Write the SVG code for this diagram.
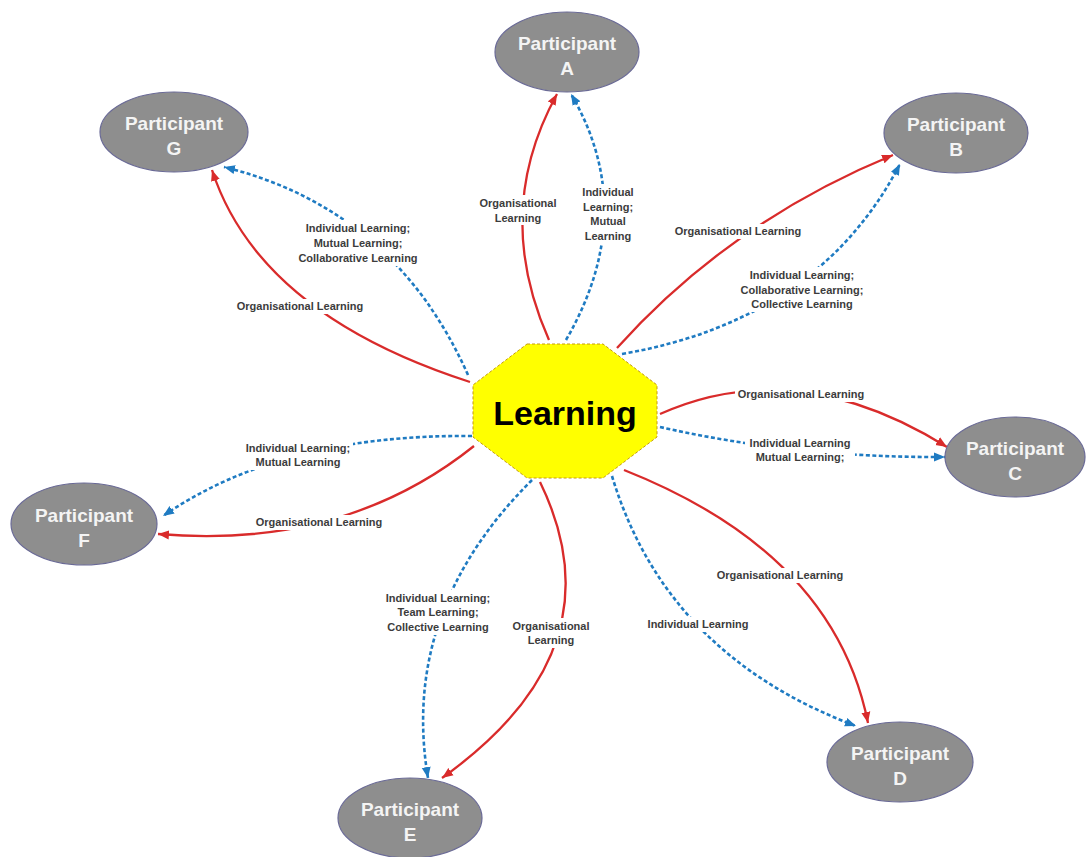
<svg xmlns="http://www.w3.org/2000/svg" width="1086" height="857" viewBox="0 0 1086 857">
<style>
.node ellipse{fill:#8e8e8e;stroke:#6a6a96;stroke-width:1.2}
.node text{font-family:"Liberation Sans",Arial,sans-serif;font-weight:bold;font-size:19px;fill:#f4f4f4;text-anchor:middle}
.red{fill:none;stroke:#d92b2b;stroke-width:2.3;marker-end:url(#ar)}
.blue{fill:none;stroke:#1f7bc2;stroke-width:2.6;stroke-dasharray:4 2.5;marker-end:url(#ab)}
.lbl text{font-family:"Liberation Sans",Arial,sans-serif;font-weight:bold;font-size:11px;fill:#3c3c3c;text-anchor:middle}
.lbl rect{fill:#ffffff}
</style>
<defs>
<marker id="ar" markerUnits="userSpaceOnUse" markerWidth="12" markerHeight="10" refX="11" refY="5" orient="auto"><path d="M0,0.5 L11,5 L0,9.5 Z" fill="#d92b2b"/></marker>
<marker id="ab" markerUnits="userSpaceOnUse" markerWidth="12" markerHeight="10" refX="11" refY="5" orient="auto"><path d="M0,0.5 L11,5 L0,9.5 Z" fill="#1f7bc2"/></marker>
</defs>
<rect width="1086" height="857" fill="#ffffff"/>
<g id="connectors">
<path class="red" d="M549,340 Q492,212 557,94"/>
<path class="blue" d="M566,340 Q640,212 571,94"/>
<path class="red" d="M617,348 Q730,222 893,155"/>
<path class="blue" d="M622,354 Q819,320 900,164"/>
<path class="red" d="M660,414 Q796,353 947,447"/>
<path class="blue" d="M660,427 Q797,458 945,457"/>
<path class="red" d="M624,470 Q834,553 868,723"/>
<path class="blue" d="M612,476 Q666,655 856,726"/>
<path class="red" d="M540,482 Q622,650 442,778"/>
<path class="blue" d="M532,480 Q400,611 428,778"/>
<path class="red" d="M474,446 Q344,550 158,534"/>
<path class="blue" d="M472,436 Q282,434 163,516"/>
<path class="red" d="M470,382 Q259,314 212,170"/>
<path class="blue" d="M468,375 Q394,209 224,167"/>
</g>
<g id="labels" class="lbl">
<rect x="478" y="195" width="80" height="30"/>
<text x="518" y="207">Organisational</text><text x="518" y="222">Learning</text>
<rect x="578" y="184" width="60" height="60"/>
<text x="608" y="196">Individual</text><text x="608" y="211">Learning;</text><text x="608" y="225">Mutual</text><text x="608" y="240">Learning</text>
<rect x="672" y="224" width="132" height="15"/>
<text x="738" y="235">Organisational Learning</text>
<rect x="739" y="267" width="126" height="45"/>
<text x="802" y="279">Individual Learning;</text><text x="802" y="294">Collaborative Learning;</text><text x="802" y="308">Collective Learning</text>
<rect x="735" y="387" width="132" height="15"/>
<text x="801" y="398">Organisational Learning</text>
<rect x="745" y="435" width="110" height="30"/>
<text x="800" y="447">Individual Learning</text><text x="800" y="461">Mutual Learning;</text>
<rect x="714" y="568" width="132" height="15"/>
<text x="780" y="579">Organisational Learning</text>
<rect x="645" y="617" width="106" height="15"/>
<text x="698" y="628">Individual Learning</text>
<rect x="509" y="618" width="84" height="30"/>
<text x="551" y="630">Organisational</text><text x="551" y="644">Learning</text>
<rect x="384" y="590" width="108" height="45"/>
<text x="438" y="602">Individual Learning;</text><text x="438" y="616">Team Learning;</text><text x="438" y="631">Collective Learning</text>
<rect x="253" y="515" width="132" height="15"/>
<text x="319" y="526">Organisational Learning</text>
<rect x="245" y="440" width="108" height="30"/>
<text x="298" y="452">Individual Learning;</text><text x="298" y="466">Mutual Learning</text>
<rect x="234" y="299" width="132" height="15"/>
<text x="300" y="310">Organisational Learning</text>
<rect x="296" y="220" width="124" height="46"/>
<text x="358" y="232">Individual Learning;</text><text x="358" y="247">Mutual Learning;</text><text x="358" y="262">Collaborative Learning</text>
</g>
<g id="learning">
<polygon points="527,344 603,344 657,385 657,437 603,478 527,478 473,437 473,385" fill="#ffff00" stroke="#c49a10" stroke-width="1" stroke-dasharray="3 2"/>
<text x="565" y="425" font-family="Liberation Sans,Arial,sans-serif" font-weight="bold" font-size="34" fill="#000000" text-anchor="middle">Learning</text>
</g>
<g id="participant-a" class="node"><ellipse cx="567" cy="52" rx="72" ry="40"/><text x="567" y="50">Participant</text><text x="567" y="75">A</text></g>
<g id="participant-b" class="node"><ellipse cx="956" cy="133" rx="72" ry="40"/><text x="956" y="131">Participant</text><text x="956" y="156">B</text></g>
<g id="participant-c" class="node"><ellipse cx="1015" cy="457" rx="70" ry="40"/><text x="1015" y="455">Participant</text><text x="1015" y="480">C</text></g>
<g id="participant-d" class="node"><ellipse cx="900" cy="762" rx="73" ry="40"/><text x="900" y="760">Participant</text><text x="900" y="785">D</text></g>
<g id="participant-e" class="node"><ellipse cx="410" cy="818" rx="72" ry="40"/><text x="410" y="816">Participant</text><text x="410" y="841">E</text></g>
<g id="participant-f" class="node"><ellipse cx="84" cy="524" rx="73" ry="41"/><text x="84" y="522">Participant</text><text x="84" y="547">F</text></g>
<g id="participant-g" class="node"><ellipse cx="174" cy="132" rx="74" ry="40"/><text x="174" y="130">Participant</text><text x="174" y="155">G</text></g>
</svg>
